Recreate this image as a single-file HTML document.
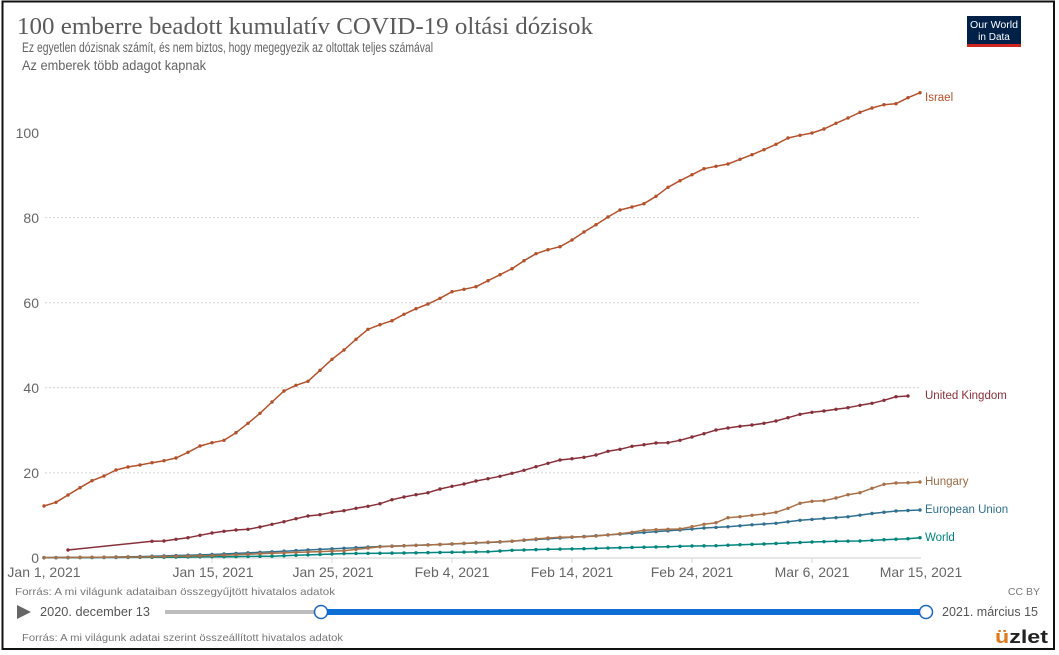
<!DOCTYPE html>
<html>
<head>
<meta charset="utf-8">
<style>
html,body{margin:0;padding:0;background:#fff;}
svg{display:block;}
text{font-family:"Liberation Sans",sans-serif;}
</style>
</head>
<body>
<svg id="c" width="1059" height="655" viewBox="0 0 1059 655" xmlns="http://www.w3.org/2000/svg">
  <rect x="0" y="0" width="1059" height="655" fill="#fff"/>
  <!-- frame -->
  <rect x="2.5" y="1.5" width="1051.5" height="647.5" fill="none" stroke="#111" stroke-width="2"/>

  <!-- title -->
  <text x="17" y="34" font-size="24" fill="#5b5b5b" textLength="576" lengthAdjust="spacingAndGlyphs" style="font-family:'Liberation Serif',serif">100 emberre beadott kumulatív COVID-19 oltási dózisok</text>
  <text x="22" y="52" font-size="13.5" fill="#636363" textLength="411" lengthAdjust="spacingAndGlyphs">Ez egyetlen dózisnak számít, és nem biztos, hogy megegyezik az oltottak teljes számával</text>
  <text x="22" y="70" font-size="13.5" fill="#636363" textLength="184" lengthAdjust="spacingAndGlyphs">Az emberek több adagot kapnak</text>

  <!-- logo -->
  <rect x="967" y="16" width="54" height="28" fill="#002147"/>
  <rect x="967" y="44" width="54" height="3" fill="#ce261e"/>
  <text x="994" y="28" font-size="10" fill="#fff" text-anchor="middle" textLength="48" lengthAdjust="spacingAndGlyphs">Our World</text>
  <text x="994" y="40" font-size="10" fill="#fff" text-anchor="middle">in Data</text>

  <!-- gridlines -->
  <g stroke="#d4d4d4" stroke-width="1" stroke-dasharray="2,2">
    <line x1="45" y1="472.9" x2="921" y2="472.9"/>
    <line x1="45" y1="387.8" x2="921" y2="387.8"/>
    <line x1="45" y1="302.7" x2="921" y2="302.7"/>
    <line x1="45" y1="217.6" x2="921" y2="217.6"/>
  </g>
  <line x1="44" y1="558" x2="921" y2="558" stroke="#cfcfcf" stroke-width="1"/>
  <g stroke="#d8d8d8" stroke-width="1">
    <line x1="212" y1="558" x2="212" y2="563"/>
    <line x1="332" y1="558" x2="332" y2="563"/>
    <line x1="452" y1="558" x2="452" y2="563"/>
    <line x1="572" y1="558" x2="572" y2="563"/>
    <line x1="692" y1="558" x2="692" y2="563"/>
    <line x1="812" y1="558" x2="812" y2="563"/>
  </g>

  <!-- y labels -->
  <g font-size="14" fill="#666" text-anchor="end">
    <text x="39" y="563">0</text>
    <text x="39" y="478">20</text>
    <text x="39" y="393">40</text>
    <text x="39" y="308">60</text>
    <text x="39" y="223">80</text>
    <text x="39" y="138">100</text>
  </g>

  <!-- x labels -->
  <g font-size="14" fill="#666" text-anchor="middle">
    <text x="44" y="577">Jan 1, 2021</text>
    <text x="213" y="577">Jan 15, 2021</text>
    <text x="333" y="577">Jan 25, 2021</text>
    <text x="452" y="577">Feb 4, 2021</text>
    <text x="572" y="577">Feb 14, 2021</text>
    <text x="692" y="577">Feb 24, 2021</text>
    <text x="812" y="577">Mar 6, 2021</text>
    <text x="921" y="577">Mar 15, 2021</text>
  </g>

  <g id="series"></g>

  <!-- end labels -->
  <g font-size="11.5">
    <text x="925" y="101" fill="#b4502a">Israel</text>
    <text x="925" y="399" fill="#883039">United Kingdom</text>
    <text x="925" y="485" fill="#9a6a44">Hungary</text>
    <text x="925" y="513" fill="#2f6f8f">European Union</text>
    <text x="925" y="541" fill="#00847e">World</text>
  </g>

  <!-- sources -->
  <text x="15" y="595" font-size="10.5" fill="#777" textLength="320" lengthAdjust="spacingAndGlyphs">Forrás: A mi világunk adataiban összegyűjtött hivatalos adatok</text>
  <text x="1040" y="595" font-size="10.5" fill="#777" text-anchor="end">CC BY</text>

  <!-- timeline -->
  <polygon points="17,605 31,612 17,619" fill="#666"/>
  <text x="40" y="616" font-size="13" fill="#555" textLength="110" lengthAdjust="spacingAndGlyphs">2020. december 13</text>
  <line x1="165" y1="612" x2="321" y2="612" stroke="#bdbdbd" stroke-width="4"/>
  <line x1="321" y1="612" x2="926" y2="612" stroke="#0d6fd6" stroke-width="6"/>
  <circle cx="321" cy="612" r="6.5" fill="#fff" stroke="#1a66c4" stroke-width="1.5"/>
  <circle cx="926" cy="612" r="6.5" fill="#fff" stroke="#1a66c4" stroke-width="1.5"/>
  <text x="942" y="616" font-size="13" fill="#555" textLength="96" lengthAdjust="spacingAndGlyphs">2021. március 15</text>

  <text x="22" y="641" font-size="10.5" fill="#777" textLength="321" lengthAdjust="spacingAndGlyphs">Forrás: A mi világunk adatai szerint összeállított hivatalos adatok</text>

  <!-- uzlet logo -->
  <text x="995" y="643" font-size="18" font-weight="bold" fill="#222" textLength="53" lengthAdjust="spacingAndGlyphs"><tspan fill="#e07a1f">ü</tspan>zlet</text>
</svg>
<script>
(function(){
  var NS="http://www.w3.org/2000/svg";
  function X(i){return 44+12*i;}
  function seq(start, arr){var r=[];for(var k=0;k<arr.length;k++)r.push([start+k,arr[k]]);return r;}
  function fill(keys){
    var r=[];
    for(var k=0;k<keys.length-1;k++){
      var a=keys[k],b=keys[k+1];
      for(var i=a[0];i<b[0];i++){r.push([i,a[1]+(b[1]-a[1])*(i-a[0])/(b[0]-a[0])]);}
    }
    r.push(keys[keys.length-1]);
    return r;
  }
  var israel=seq(0,[506,502.3,495,487.7,480.7,476,470,467,465,462.7,460.7,458,452.3,446,442.7,440.3,432.7,423.3,413.3,402,391,385.3,381.3,370.3,359.3,350,339.3,329.3,324.7,320.7,314.3,308.7,304,298.3,
    291.7,289.3,286.7,280.7,274.7,268.7,260.7,253.7,249.7,246.7,240,232,224.7,217,210,207,203.7,196.3,187.3,180.7,174.7,168.7,166.3,164,159.3,154.7,149.7,144.3,138,135.3,133,129,123.3,118,112.3,108,104.7,103.7,97.7,92.7]);
  var uk=[[2,550]].concat(seq(9,[541.3,541,539.3,537.7,535.3,533,531.3,530,529.3,527,524.3,521.7,518.7,516,514.7,512.3,510.7,508.3,506.3,503.7,499.7,497,494.7,492.7,489,486.3,484,481,478.7,476.3,
    473.3,470.3,466.7,463.3,460,458.7,457.3,455,451.3,449.3,446.3,444.7,443,442.7,440.3,437,433.7,430,428,426.3,425,423.3,421,417.7,414.3,412.3,411,409.3,407.7,405.3,403.3,400.3,396.7,396]));
  var hungary=fill([[0,557.6],[8,557],[14,555.6],[19,553.3],[25,550.7],[28,546.8],[33,544.5],[38,541.7]]).slice(0,-1)
    .concat(seq(38,[541.7,541.3,540,539,538,537.3,537,536.7,536,535,533.7,532.3,530.3,529.7,529.3,529,526.7,524.3,522.7,517.7,516.7,515.3,514,512.3,508.3,503.3,501.3,500.7,498,494.7,492.7,488.3,484.3,483,482.7,482]));
  var eu=fill([[0,557.6],[5,557.2],[8,556.6],[10,555.9],[14,554.5],[19,551.8],[22,550],[25,548.3],[28,546.5],[33,544.5],[38,542],[41,539.5],[45,536.5],[49,533.3],[53,530],[55,528],[57,526.8],[59,524.8],[61,523.3],[63,520.3],[65,518.5],[67,516.8],[69,513.5],[71,511],[73,510]]);
  var world=fill([[0,557.8],[10,557.3],[19,556.2],[25,553.6],[30,553],[37,551.7],[39,550.3],[42,549.3],[45,548.7],[48,547.7],[51,547],[54,546],[56,545.7],[58,544.7],[60,544],[62,543],[64,542],[66,541.3],[68,541],[70,539.7],[72,538.7],[73,537.7]]);
  var S=[[world,"#00847e"],[eu,"#2f6f8f"],[hungary,"#a87048"],[uk,"#883039"],[israel,"#b4502a"]];
  var g=document.getElementById("series");
  S.forEach(function(s){
    var pts=s[0].map(function(p){return X(p[0]).toFixed(1)+","+p[1].toFixed(1);}).join(" ");
    var pl=document.createElementNS(NS,"polyline");
    pl.setAttribute("points",pts);pl.setAttribute("fill","none");pl.setAttribute("stroke",s[1]);
    pl.setAttribute("stroke-width","1.5");pl.setAttribute("stroke-linejoin","round");
    g.appendChild(pl);
    s[0].forEach(function(p){
      var c=document.createElementNS(NS,"circle");
      c.setAttribute("cx",X(p[0]));c.setAttribute("cy",p[1]);c.setAttribute("r","1.7");c.setAttribute("fill",s[1]);
      g.appendChild(c);
    });
  });
})();
</script>
</body>
</html>
